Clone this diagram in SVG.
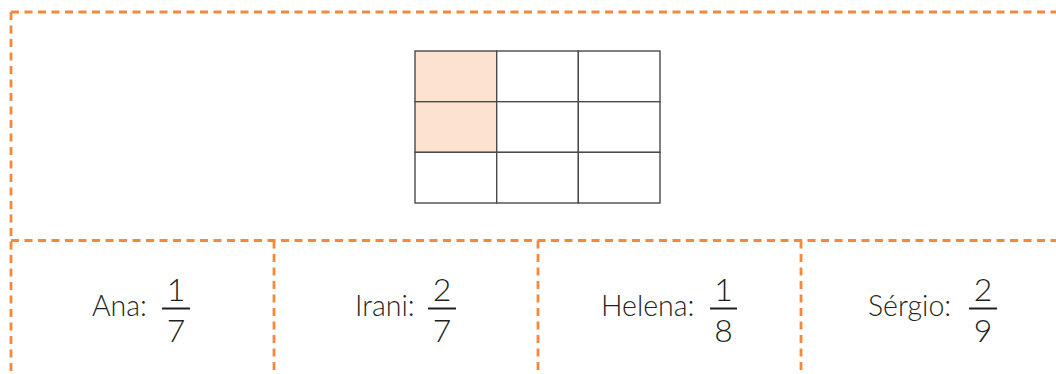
<svg xmlns="http://www.w3.org/2000/svg" width="1056" height="374" viewBox="0 0 1056 374">
<style>
.dash{stroke:#F4883C;stroke-width:2.8;stroke-dasharray:8 5.5;fill:none}
.cell{stroke:#4a4a4a;stroke-width:1.4}
.lbl{font-family:Lato,"Open Sans",sans-serif;font-size:28.5px;font-weight:300;fill:#231F20}
.num{font-family:Lato,"Open Sans",sans-serif;font-size:32px;font-weight:300;fill:#231F20;text-anchor:middle}
.bar{stroke:#231F20;stroke-width:2}
</style>
<rect width="1056" height="374" fill="#fff"/>
<g id="connectors">
<line class="dash" x1="11" y1="12" x2="1056" y2="12"/>
<line class="dash" x1="11" y1="12" x2="11" y2="374"/>
<line class="dash" x1="11" y1="240.5" x2="1056" y2="240.5"/>
<line class="dash" x1="274" y1="240.5" x2="274" y2="374"/>
<line class="dash" x1="538" y1="240.5" x2="538" y2="374"/>
<line class="dash" x1="801" y1="240.5" x2="801" y2="374"/>
</g>
<g id="grid">
<rect class="cell" x="415" y="51" width="81.7" height="50.7" fill="#FDE3CF"/>
<rect class="cell" x="496.7" y="51" width="81.7" height="50.7" fill="#fff"/>
<rect class="cell" x="578.3" y="51" width="81.7" height="50.7" fill="#fff"/>
<rect class="cell" x="415" y="101.7" width="81.7" height="50.7" fill="#FDE3CF"/>
<rect class="cell" x="496.7" y="101.7" width="81.7" height="50.7" fill="#fff"/>
<rect class="cell" x="578.3" y="101.7" width="81.7" height="50.7" fill="#fff"/>
<rect class="cell" x="415" y="152.3" width="81.7" height="50.7" fill="#fff"/>
<rect class="cell" x="496.7" y="152.3" width="81.7" height="50.7" fill="#fff"/>
<rect class="cell" x="578.3" y="152.3" width="81.7" height="50.7" fill="#fff"/>
</g>
<g id="ana">
<text class="lbl" x="92" y="316">Ana:</text>
<text class="num" x="176" y="301">1</text>
<line class="bar" x1="162" y1="308.5" x2="190" y2="308.5"/>
<text class="num" x="176" y="342">7</text>
</g>
<g id="irani">
<text class="lbl" x="355" y="316">Irani:</text>
<text class="num" x="442" y="301">2</text>
<line class="bar" x1="428" y1="308.5" x2="456" y2="308.5"/>
<text class="num" x="442" y="342">7</text>
</g>
<g id="helena">
<text class="lbl" x="601" y="316">Helena:</text>
<text class="num" x="723.5" y="301">1</text>
<line class="bar" x1="710" y1="308.5" x2="737" y2="308.5"/>
<text class="num" x="723.5" y="342">8</text>
</g>
<g id="sergio">
<text class="lbl" x="868" y="316">Sérgio:</text>
<text class="num" x="983" y="301">2</text>
<line class="bar" x1="969" y1="308.5" x2="997" y2="308.5"/>
<text class="num" x="983" y="342">9</text>
</g>
</svg>
